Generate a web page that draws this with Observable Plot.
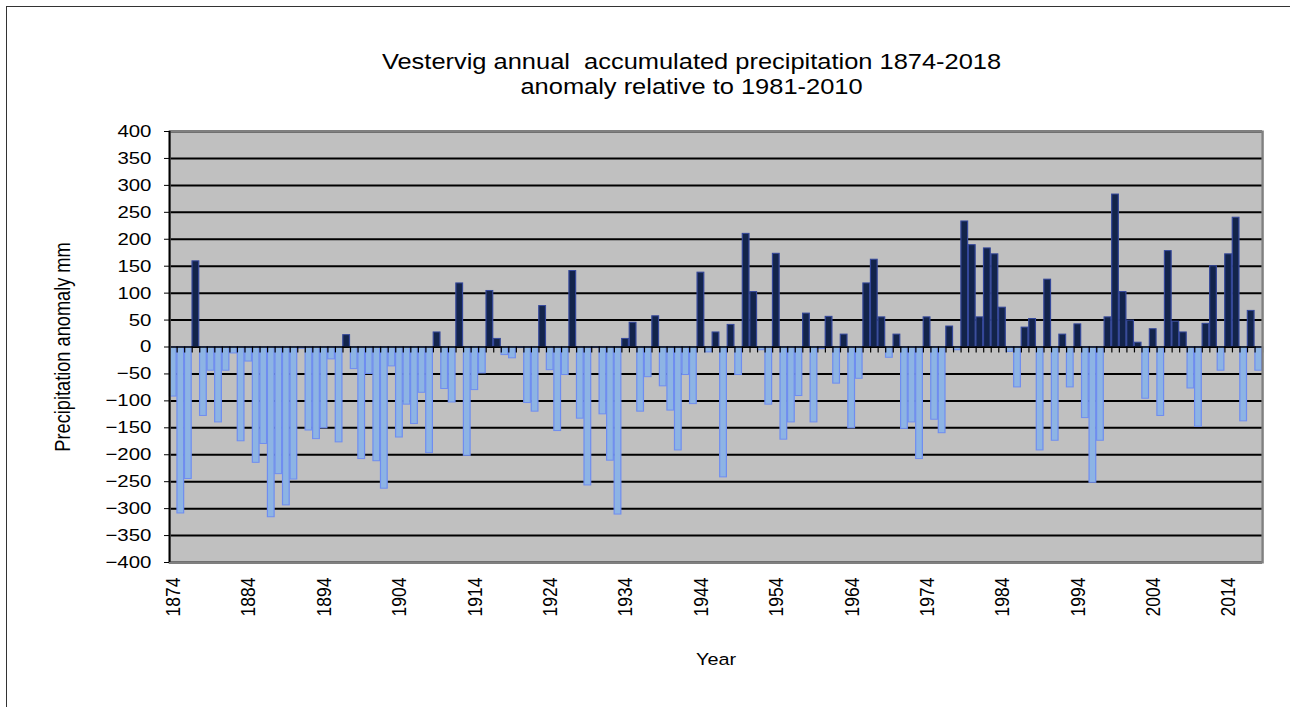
<!DOCTYPE html>
<html>
<head>
<meta charset="utf-8">
<script src="https://cdn.jsdelivr.net/npm/d3@7"></script>
<script src="https://cdn.jsdelivr.net/npm/@observablehq/plot@0.6"></script>
<style>
  html, body { margin: 0; padding: 0; background: #fff; overflow: hidden; }
  #outer { position: absolute; left: 6px; top: 6px; width: 1400px; height: 800px;
           border-left: 1.5px solid #333; border-top: 1.5px solid #333; }
  #chart { position: absolute; left: 0; top: 0; }
  svg text { white-space: pre; }
</style>
</head>
<body>
<div id="outer"></div>
<div id="chart"></div>
<script>
// ---- data ----
const firstYear = 1874;
const anomalies = [
  -92, -309, -245, 159, -128, -44, -140, -44, -12, -175,      // 1874-1883
  -27, -215, -180, -316, -236, -294, -246, -3, -155, -171,     // 1884-1893
  -151, -23, -177, 22, -41, -208, -50, -212, -263, -36,        // 1894-1903
  -168, -107, -143, -85, -197, 27, -78, -103, 118, -202,       // 1904-1913
  -80, -49, 104, 15, -15, -21, -2, -104, -120, 76,             // 1914-1923
  -43, -156, -52, 141, -133, -257, -2, -125, -211, -311,       // 1924-1933
  15, 45, -120, -56, 57, -73, -118, -192, -52, -106,           // 1934-1943
  138, -10, 27, -242, 41, -52, 210, 102, -6, -107,             // 1944-1953
  173, -172, -140, -91, 62, -140, -4, 56, -68, 23,             // 1954-1963
  -151, -59, 118, 162, 55, -20, 23, -152, -140, -208,          // 1964-1973
  55, -135, -160, 38, -6, 233, 189, 55, 183, 172,              // 1974-1983
  73, -9, -75, 36, 52, -192, 125, -174, 23, -75,               // 1984-1993
  42, -132, -252, -174, 55, 283, 102, 49, 8, -96,              // 1994-2003
  33, -128, 178, 47, 27, -77, -148, 43, 150, -44,              // 2004-2013
  172, 240, -138, 67, -44                                      // 2014-2018
];
const labelYears = [1874, 1884, 1894, 1904, 1914, 1924, 1934, 1944, 1954, 1964, 1974, 1984, 1994, 2004, 2014];
const yTicks = [-400, -350, -300, -250, -200, -150, -100, -50, 0, 50, 100, 150, 200, 250, 300, 350, 400];
const titleLines = ["Vestervig annual  accumulated precipitation 1874-2018", "anomaly relative to 1981-2010"];
const yLabel = "Precipitation anomaly mm";
const xLabel = "Year";

const data = anomalies.map((v, i) => ({year: firstYear + i, value: v}));
const lastYear = firstYear + anomalies.length - 1;
const boundaries = data.map(d => d.year - 0.5).concat([lastYear + 0.5]);

// ---- layout (base coordinates, later stretched horizontally) ----
const SX = 1.2;                 // horizontal stretch of the original picture
const screenW = 1290, screenH = 707;
const W = screenW / SX;
const font = "Arial, 'Liberation Sans', sans-serif";

const chart = Plot.plot({
  width: W,
  height: screenH,
  marginLeft: 169 / SX,
  marginRight: (screenW - 1262) / SX,
  marginTop: 131,
  marginBottom: screenH - 562,
  style: {fontFamily: font, fontSize: "17px", color: "#000", background: "transparent", overflow: "visible"},
  x: {type: "linear", domain: [firstYear - 0.5, lastYear + 0.5], axis: null},
  y: {domain: [-400, 400], axis: null},
  marks: [
    Plot.frame({fill: "#c0c0c0", stroke: null}),
    Plot.ruleY(yTicks, {stroke: "#000", strokeWidth: 2}),
    Plot.rectY(data, {
      x1: d => d.year - 0.5,
      x2: d => d.year + 0.5,
      y1: 0,
      y2: "value",
      insetLeft: 0.35,
      insetRight: 0.35,
      fill: d => d.value >= 0 ? "#13244b" : "#8db4e4",
      stroke: d => d.value >= 0 ? "#34479a" : "#6f8df0",
      strokeWidth: 1
    }),
    Plot.ruleY([0], {stroke: "#000", strokeWidth: 1.5}),
    Plot.ruleX(boundaries, {y1: 0, y2: -11, stroke: "#000", strokeWidth: 1}),
    Plot.frame({stroke: "#808080", strokeWidth: 2}),
    Plot.ruleX([firstYear - 0.5], {stroke: "#000", strokeWidth: 1.5}),
    Plot.axisY(yTicks, {anchor: "left", tickSize: 5 / SX, tickPadding: 11, fontSize: 17, label: null, stroke: "#000"}),
    Plot.text(labelYears, {x: d => d, text: d => String(d), frameAnchor: "bottom", dy: 15,
      rotate: -90, textAnchor: "end", lineAnchor: "middle", fontSize: 17.5, fill: "#000"}),
    Plot.text([xLabel], {text: d => d, frameAnchor: "bottom", dy: 97, lineAnchor: "middle",
      textAnchor: "middle", fontSize: 16.5, fill: "#000"}),
    Plot.text([yLabel], {text: d => d, frameAnchor: "left", dx: -89, rotate: -90,
      textAnchor: "middle", lineAnchor: "middle", fontSize: 18.2, fill: "#000"}),
    Plot.text([titleLines.join("\n")], {text: d => d, frameAnchor: "top", dx: -20.5, dy: -58,
      textAnchor: "middle", lineAnchor: "middle", lineHeight: 1.19, fontSize: 21.2, fill: "#000"})
  ]
});

chart.setAttribute("viewBox", `0 0 ${W} ${screenH}`);
chart.setAttribute("width", screenW);
chart.setAttribute("height", screenH);
chart.setAttribute("preserveAspectRatio", "none");
chart.style.width = screenW + "px";
chart.style.height = screenH + "px";
chart.style.maxWidth = "none";
document.getElementById("chart").appendChild(chart);
</script>
</body>
</html>
